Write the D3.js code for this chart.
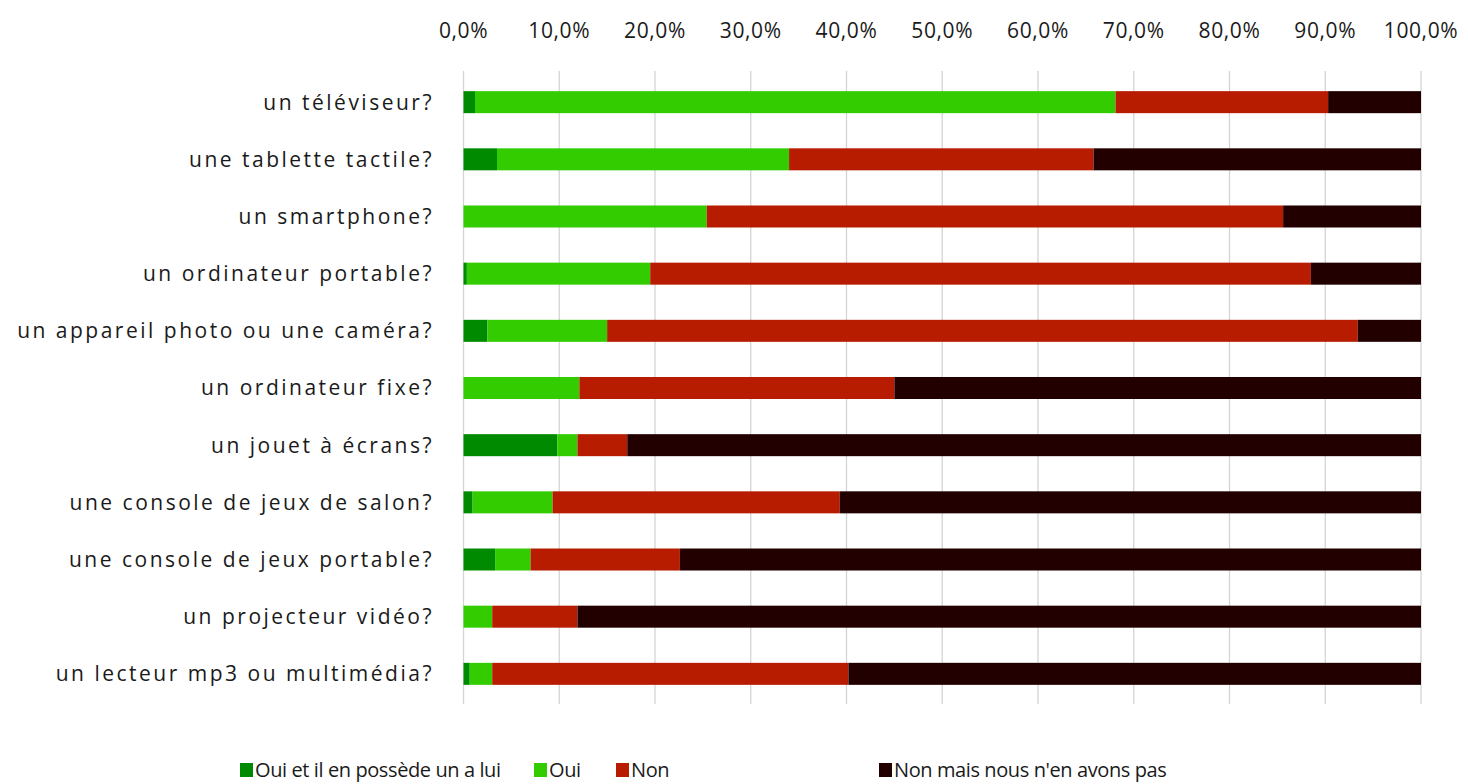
<!DOCTYPE html>
<html>
<head>
<meta charset="utf-8">
<script src="https://cdn.jsdelivr.net/npm/d3@7"></script>
<style>
  body { margin: 0; background: #fff; }
  text { font-family: "Open Sans", sans-serif; fill: #1a1a1a; }
</style>
</head>
<body>
<svg id="chart" width="1468" height="784"></svg>
<script>
// categories, top to bottom
const categories = [
  "un téléviseur?",
  "une tablette tactile?",
  "un smartphone?",
  "un ordinateur portable?",
  "un appareil photo ou une caméra?",
  "un ordinateur fixe?",
  "un jouet à écrans?",
  "une console de jeux de salon?",
  "une console de jeux portable?",
  "un projecteur vidéo?",
  "un lecteur mp3 ou multimédia?"
];

const seriesNames = ["Oui et il en possède un a lui", "Oui", "Non", "Non mais nous n'en avons pas"];

// percentages
const ouiLui = [1.2, 3.5, 0, 0.35, 2.5, 0, 9.8, 0.95, 3.3, 0, 0.65];
const oui    = [66.9, 30.5, 25.4, 19.15, 12.5, 12.1, 2.1, 8.35, 3.7, 3.0, 2.35];
const non    = [22.2, 31.8, 60.2, 69.0, 78.4, 32.9, 5.2, 30.0, 15.6, 8.9, 37.2];
const nonPas = [9.7, 34.2, 14.4, 11.5, 6.6, 55.0, 82.9, 60.7, 77.4, 88.1, 59.8];

const colors = ["#008a00", "#33cc00", "#b81c00", "#220000"];
const ticks = [0, 10, 20, 30, 40, 50, 60, 70, 80, 90, 100];

const rows = categories.map((c, i) => ({
  cat: c, s0: ouiLui[i], s1: oui[i], s2: non[i], s3: nonPas[i]
}));

const stack = d3.stack().keys(["s0", "s1", "s2", "s3"])(rows);

const svg = d3.select("#chart");
const margin = {top: 74, left: 463.5, right: 47, bottom: 82};
const W = 1468, H = 784;

const x = d3.scaleLinear().domain([0, 100]).range([margin.left, W - margin.right]);
const y = d3.scaleBand().domain(categories).range([margin.top, H - margin.bottom]).paddingInner(0.615).paddingOuter(0.3);

// gridlines
svg.append("g")
  .selectAll("line")
  .data(ticks)
  .join("line")
  .attr("x1", d => x(d)).attr("x2", d => x(d))
  .attr("y1", 71).attr("y2", 704)
  .attr("stroke", "#d4d4d4")
  .attr("stroke-width", 1.3)

// top axis labels
const fmt = d => d.toFixed(1).replace(".", ",") + "%";
svg.append("g")
  .selectAll("text")
  .data(ticks)
  .join("text")
  .attr("x", d => x(d))
  .attr("y", 38)
  .attr("text-anchor", "middle")
  .style("font-size", "21px")
  .style("letter-spacing", "0.6px")
  .text(fmt)

// bars
svg.append("g")
  .selectAll("g")
  .data(stack)
  .join("g")
  .attr("fill", (d, i) => colors[i])
  .selectAll("rect")
  .data(d => d)
  .join("rect")
  .attr("x", d => x(d[0]))
  .attr("width", d => Math.max(0, x(d[1]) - x(d[0])))
  .attr("y", d => y(d.data.cat))
  .attr("height", y.bandwidth())

// category labels
svg.append("g")
  .selectAll("text")
  .data(categories)
  .join("text")
  .attr("x", 434)
  .attr("y", d => y(d) + y.bandwidth() / 2)
  .attr("dy", "0.35em")
  .attr("text-anchor", "end")
  .style("font-size", "21px")
  .style("letter-spacing", "2.5px")
  .text(d => d)

// legend
const legendX = [240, 534, 616, 879];
const legend = svg.append("g")
  .selectAll("g")
  .data(seriesNames)
  .join("g")
  .attr("transform", (d, i) => `translate(${legendX[i]},770)`)

legend.append("rect")
  .attr("x", 0).attr("y", -7)
  .attr("width", 13).attr("height", 14)
  .attr("fill", (d, i) => colors[i])

legend.append("text")
  .attr("x", 15)
  .attr("dy", "0.35em")
  .style("font-size", "20px")
  .style("letter-spacing", "-0.4px")
  .text(d => d)
</script>
</body>
</html>
